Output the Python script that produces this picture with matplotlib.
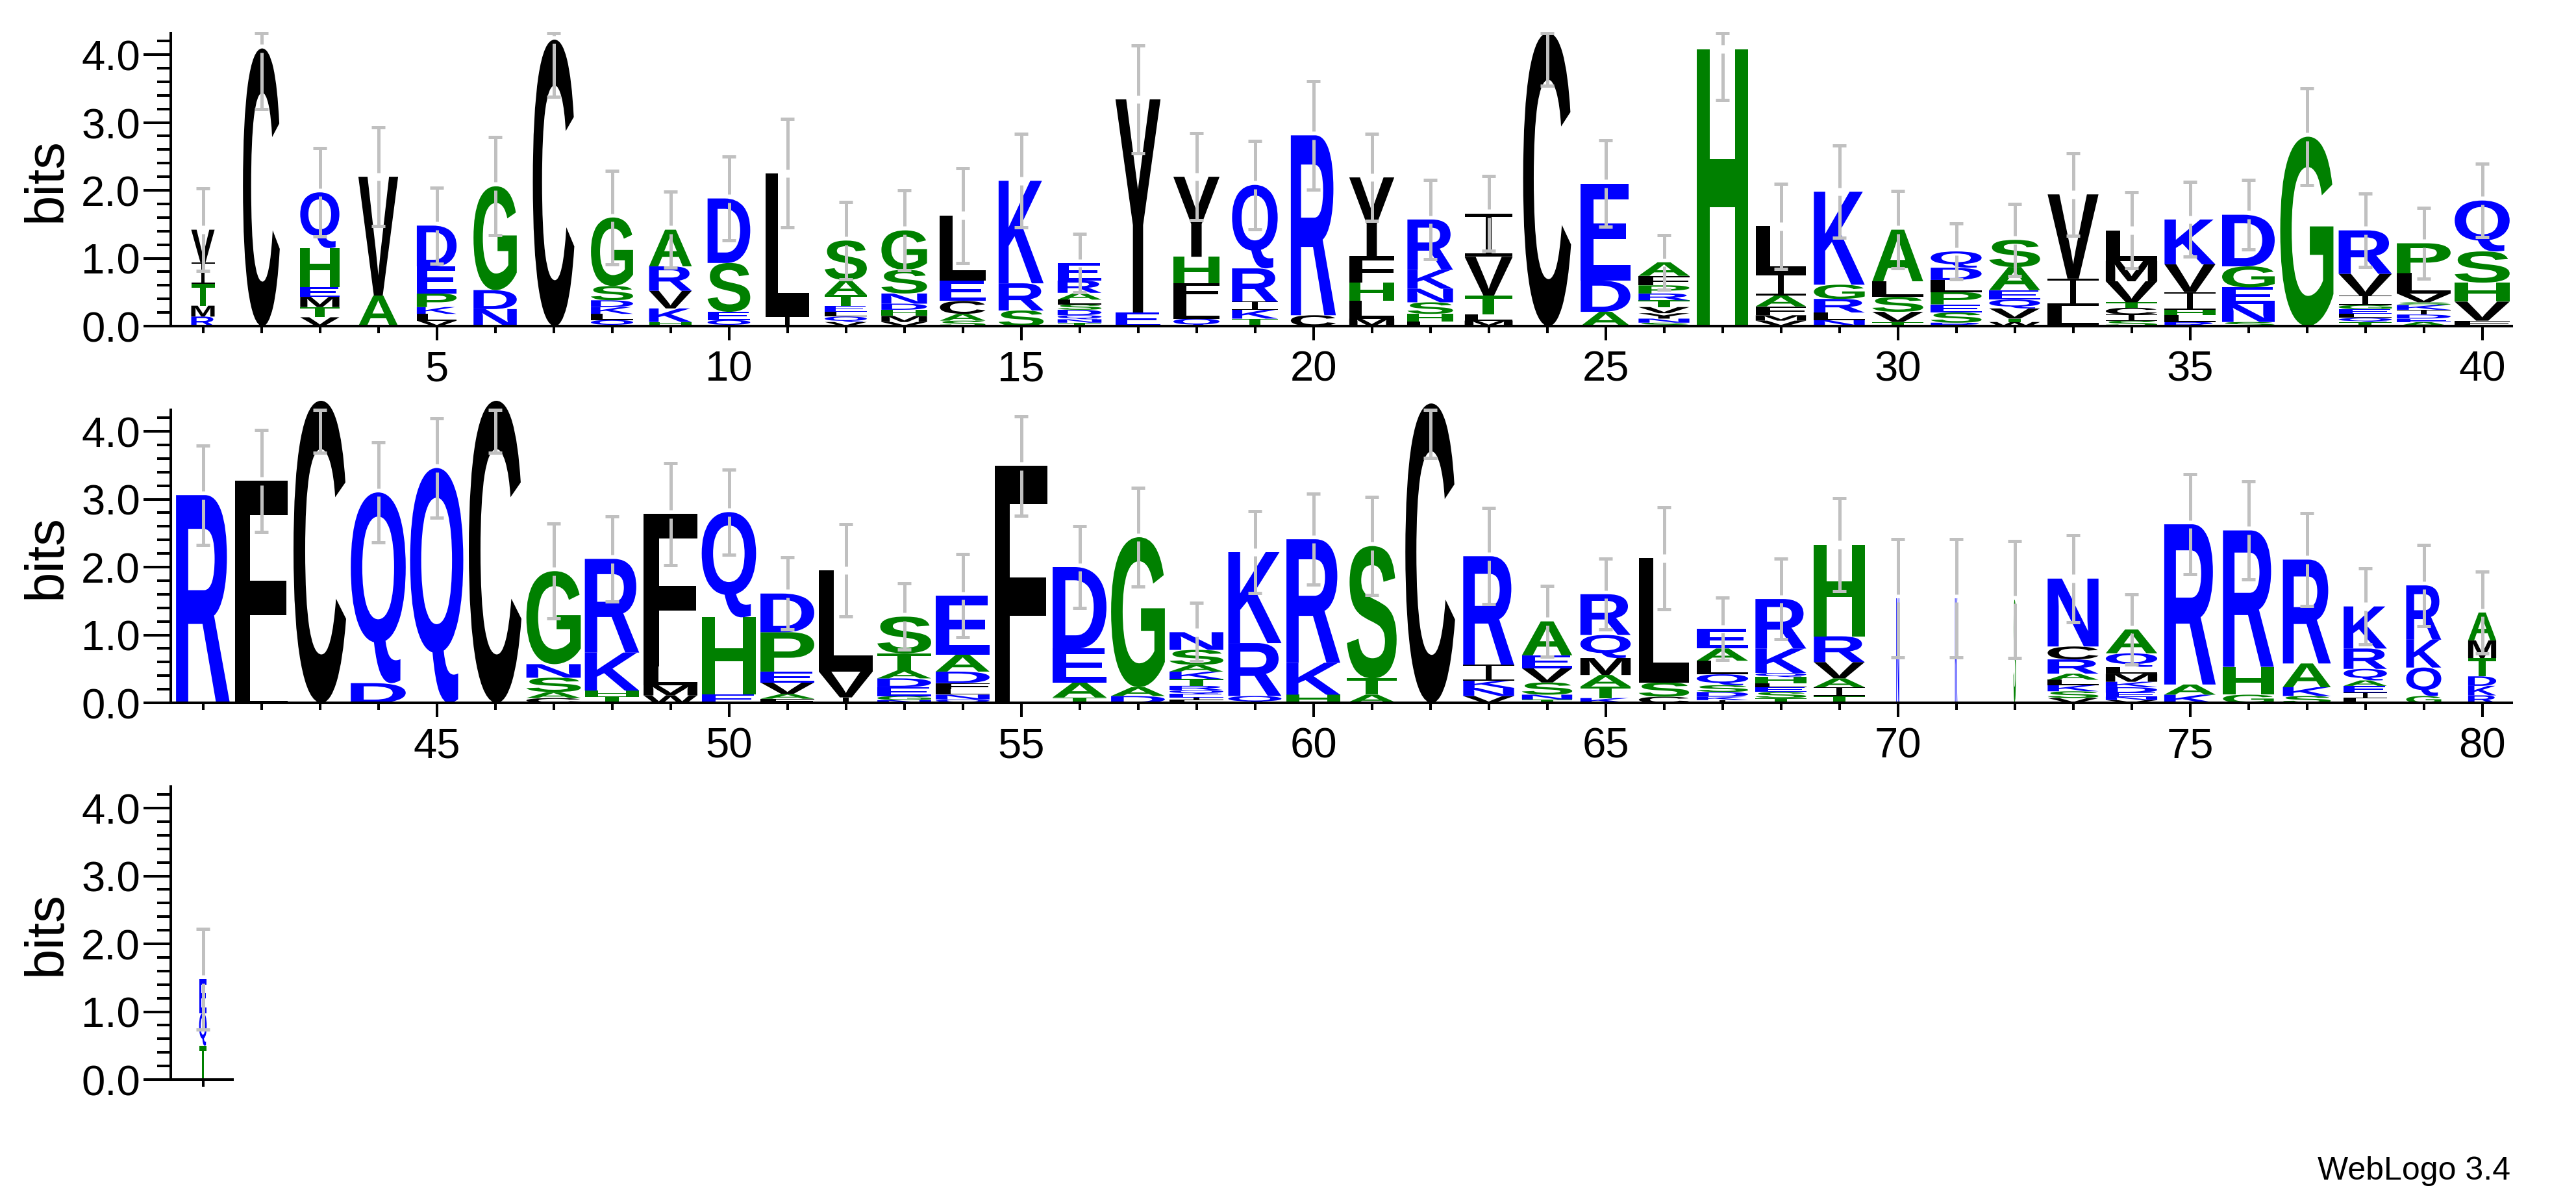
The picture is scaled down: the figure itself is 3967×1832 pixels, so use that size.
import numpy as np
import matplotlib
matplotlib.use("Agg")
import matplotlib.pyplot as plt
from matplotlib.textpath import TextPath
from matplotlib.font_manager import FontProperties
from matplotlib.patches import PathPatch
from matplotlib.path import Path
from matplotlib.transforms import Bbox
from matplotlib.ticker import FixedLocator, MultipleLocator, FormatStrFormatter

plt.rcParams['font.family'] = ['Liberation Sans', 'DejaVu Sans']

# residues per column, bottom to top
stacks = [
    "RMTIV", "C", "VTMEHQ", "AV", "VLKPED", "NDG", "C", "QLKDSG", "HKVRA", "QESD",
    "IL", "VQLETAS", "VMHDNSG", "SACEL", "SRK", "TNQDSLARE", "EY", "QLFHY", "TKIRQ", "CR",
    "MLHFY", "LHSNKR", "MLTVI", "C", "ADE", "SNYVTRPFA", "H", "VMFAIL", "NLRGK", "TVSLA",
    "RSEPLDQ", "WTVQEAS", "LIV", "SICTVML", "RLHIVK", "SNEGD", "G", "TQLEGIVR", "AEDIKSVLP", "FVHSQ",
    "R", "LF", "C", "DQ", "Q", "C", "CASNG", "THKR", "WMLF", "EHQ",
    "FAVEPD", "IVL", "NGEDATS", "QNLFDAE", "F", "TAED", "DAG", "LIEQRTKASN", "QRK", "HKR",
    "ATS", "C", "VNKIR", "TNSVEA", "KTAMQR", "CSL", "IKDSQLAE", "TSELHQKR", "TIAVRH", "N",
    "K", "S", "VSKLARCN", "VNEDKMLQA", "KAR", "GHR", "SKAR", "LIEAQRK", "GQKR", "RKDTMA",
    "TQE",
]

# letter heights in bits, same order
heights = [
    [.14, .16, .32, .32, .48], [4.09], [.13, .15, .15, .14, .58, .82], [.45, 1.75],
    [.08, .10, .10, .20, .40, .60], [.25, .28, 1.53], [4.22], [.09, .09, .10, .10, .21, 1.01],
    [.06, .20, .26, .36, .54], [.09, .12, .72, .95],
    [.15, 2.10], [.06, .08, .07, .09, .16, .22, .58], [.06, .09, .09, .09, .15, .35, .58],
    [.08, .10, .19, .30, .96], [.23, .40, 1.51], [.05, .05, .06, .08, .08, .07, .10, .18, .26],
    [.20, 3.14], [.11, .27, .25, .39, 1.18], [.11, .13, .12, .49, 1.23], [.16, 2.65],
    [.11, .26, .27, .39, 1.16], [.07, .11, .17, .20, .28, .74], [.08, .09, .28, .57, .64],
    [4.32], [.21, .46, 1.43], [.05, .06, .08, .09, .10, .10, .12, .14, .20], [4.08],
    [.08, .08, .13, .16, .32, .70], [.09, .11, .20, .21, 1.37], [.06, .15, .22, .23, .76],
    [.05, .15, .12, .18, .18, .18, .24], [.06, .05, .15, .13, .14, .34, .40], [.30, .40, 1.24],
    [.08, .09, .10, .08, .31, .30, .45], [.06, .10, .08, .26, .41, .66], [.06, .27, .24, .31, .76],
    [2.79], [.06, .06, .06, .07, .06, .14, .32, .64], [.06, .05, .06, .07, .07, .04, .13, .30, .44],
    [.08, .28, .28, .46, .75],
    [3.06], [.15, 3.12], [4.45], [.29, 2.81], [3.46], [4.45], [.07, .09, .21, .20, 1.37],
    [.10, .08, .56, 1.38], [.11, .15, .28, 2.24], [.12, 1.14, 1.55],
    [.06, .07, .17, .16, .58, .57], [.08, .38, 1.49], [.04, .06, .13, .13, .12, .25, .54],
    [.05, .07, .08, .09, .17, .25, .87], [3.49], [.08, .22, .50, 1.20], [.10, .13, 2.21],
    [.04, .04, .05, .06, .06, .10, .11, .10, .22, .26], [.10, .78, 1.34], [.12, .47, 1.82],
    [.12, .24, 1.95], [4.41], [.10, .12, .11, .23, 1.60], [.05, .07, .18, .21, .19, .50],
    [.07, .17, .17, .25, .34, .60], [.09, .21, 1.83], [.04, .05, .07, .10, .16, .20, .18, .29],
    [.07, .09, .07, .06, .09, .06, .36, .73], [.10, .13, .13, .24, .38, 1.35], [1.54],
    [1.54], [1.52], [.07, .10, .09, .08, .09, .21, .19, 1.00], [.04, .05, .06, .08, .08, .12, .10, .20, .35],
    [.12, .15, 2.36], [.12, .41, 2.01], [.10, .13, .35, 1.53], [.07, .08, .10, .08, .17, .30, .62],
    [.10, .42, .41, .80], [.11, .14, .14, .27, .26, .41],
    [.50, .48, .50],
]

# error bar half length, bits
errors = [
    .61, .89, .65, .73, .56, .72, .84, .69, .56, .62,
    .80, .57, .59, .70, .69, .43, .79, .64, .65, .80,
    .64, .58, .55, .78, .64, .40, .75, .63, .68, .57,
    .41, .53, .61, .56, .55, .51, .71, .54, .52, .54,
    .73, .75, .77, .74, .73, .77, .70, .63, .75, .63,
    .53, .68, .49, .61, .73, .60, .73, .43, .60, .67,
    .72, .80, .71, .52, .52, .75, .46, .59, .68, .87,
    .87, .86, .64, .52, .74, .72, .68, .56, .60, .60,
    .74,
]

# fraction of sequences with a residue in the column (sets stack width)
occupancy = [
    .40, .63, .67, .68, .68, .74, .71, .72, .73, .73,
    .74, .72, .78, .78, .77, .75, .77, .79, .78, .77,
    .77, .78, .82, .82, .85, .87, .87, .86, .87, .87,
    .87, .87, .87, .88, .87, .90, .91, .91, .92, .94,
    .92, .90, .90, .94, .91, .90, .93, .93, .92, .93,
    .92, .92, .92, .92, .90, .92, .92, .92, .91, .92,
    .85, .85, .87, .86, .86, .86, .88, .87, .87, .05,
    .04, .04, .87, .88, .88, .87, .82, .74, .60, .48,
    .13,
]

colors = {}
for ch in "DEKRNQ":
    colors[ch] = "#0000ff"
for ch in "GSTAHP":
    colors[ch] = "#008000"
for ch in "CVLIMFWY":
    colors[ch] = "#000000"

letter_font = FontProperties(family='Liberation Sans', weight='bold')
glyph_cache = {}

# weblogo's I has thin serifs, so build it by hand in a unit box
i_beam = Path([(0, 0), (1, 0), (1, .08), (.56, .08), (.56, .92), (1, .92), (1, 1),
               (0, 1), (0, .92), (.44, .92), (.44, .08), (0, .08), (0, 0)],
              [Path.MOVETO] + [Path.LINETO] * 11 + [Path.CLOSEPOLY])


def glyph(ch):
    if ch not in glyph_cache:
        if ch == 'I':
            glyph_cache[ch] = (i_beam, Bbox([[0, 0], [1, 1]]))
        else:
            p = TextPath((0, 0), ch, size=1, prop=letter_font)
            glyph_cache[ch] = (p, p.get_extents())
    return glyph_cache[ch]


def draw_letter(ax, ch, xc, y0, w, h):
    p, ext = glyph(ch)
    v = p.vertices.copy()
    v[:, 0] = xc - w / 2 + (v[:, 0] - ext.x0) / ext.width * w
    v[:, 1] = y0 + (v[:, 1] - ext.y0) / ext.height * h
    ax.add_patch(PathPatch(Path(v, p.codes), facecolor=colors[ch], edgecolor='none',
                           lw=0, clip_on=False))


W, H = 3967, 1833
fig = plt.figure(figsize=(W / 100, H / 100), dpi=100)

px_bit = 104.5
ymax = 4.32
per_row = 40
baselines = [503, 1083, 1663]
gray = "#c0c0c0"
n = len(stacks)

for r, base in enumerate(baselines):
    ax = fig.add_axes([263 / W, 1 - base / H, 3604.5 / W, ymax * px_bit / H])
    ax.set_xlim(0.45, 40.5)
    ax.set_ylim(0, ymax)
    cols = range(r * per_row, min((r + 1) * per_row, n))

    for i in cols:
        x = i - r * per_row + 1
        y = 0
        for ch, h in zip(stacks[i], heights[i]):
            draw_letter(ax, ch, x, y, occupancy[i], h)
            y += h
        top = y
        lo = top - errors[i]
        hi = min(top + errors[i], ymax)
        kw = dict(color=gray, lw=3.6, clip_on=False, zorder=5, solid_capstyle='butt')
        if hi > top + 0.06:
            ax.plot([x, x], [lo, top - 0.06], **kw)
            ax.plot([x, x], [top + 0.06, hi], **kw)
        else:
            ax.plot([x, x], [lo, hi], **kw)
        for yy in (lo, hi):
            ax.plot([x - 0.117, x + 0.117], [yy, yy], **kw)

    for s in ['top', 'right']:
        ax.spines[s].set_visible(False)
    for s in ['left', 'bottom']:
        ax.spines[s].set_linewidth(2.9)
    ax.spines['left'].set_bounds(0, ymax)
    last = len(cols)
    ax.spines['bottom'].set_bounds(0.48, last + 0.5)

    ax.yaxis.set_major_locator(MultipleLocator(1))
    ax.yaxis.set_minor_locator(MultipleLocator(0.2))
    ax.yaxis.set_major_formatter(FormatStrFormatter('%.1f'))
    ax.tick_params(axis='y', which='major', length=30, width=2.9, labelsize=47, pad=4)
    ax.tick_params(axis='y', which='minor', length=15, width=2.9)

    positions = [i + 1 for i in cols]
    major = [p - r * per_row for p in positions if p % 5 == 0]
    minor = [p - r * per_row for p in positions if p % 5 != 0]
    ax.xaxis.set_major_locator(FixedLocator(major))
    ax.xaxis.set_minor_locator(FixedLocator(minor))
    ax.set_xticklabels([str(p) for p in positions if p % 5 == 0])
    ax.tick_params(axis='x', which='major', length=16, width=2.9, labelsize=47, pad=10)
    ax.tick_params(axis='x', which='minor', length=8, width=2.9)

    fig.text(72 / W, 1 - (base - ymax * px_bit / 2) / H, "bits", rotation=90,
             ha='center', va='center', fontsize=60)

fig.text(3866 / W, 1 - 1816 / H, "WebLogo 3.4", ha='right', va='baseline', fontsize=36)

fig.savefig("out.png", dpi=100)
